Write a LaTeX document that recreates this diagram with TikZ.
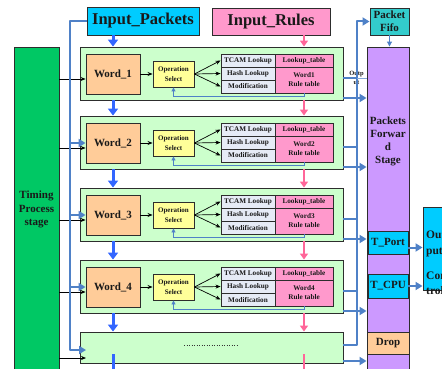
\documentclass[tikz,border=0pt]{standalone}
\usepackage{fontspec}
\setmainfont{Liberation Serif}
\usetikzlibrary{arrows.meta}
\definecolor{tgreen}{RGB}{0,200,100}
\definecolor{lgreen}{RGB}{204,255,204}
\definecolor{wordor}{RGB}{255,204,153}
\definecolor{opyel}{RGB}{255,255,153}
\definecolor{cellgray}{RGB}{230,235,246}
\definecolor{rpink}{RGB}{255,153,204}
\definecolor{pcyan}{RGB}{0,204,255}
\definecolor{fteal}{RGB}{51,204,204}
\definecolor{fpurple}{RGB}{204,153,255}
\definecolor{lblue}{RGB}{79,129,199}
\definecolor{bblue}{RGB}{51,102,255}
\definecolor{apink}{RGB}{255,102,153}
\definecolor{edge}{RGB}{45,45,45}
\newcommand{\fs}[2]{\fontsize{#1}{#2}\selectfont}
\begin{document}
\begin{tikzpicture}[x=1pt,y=-1pt,
  every node/.style={inner sep=0pt, font=\bfseries, text=black!90},
  box/.style={draw=edge, line width=0.9pt, align=center},
  blkbox/.style={box, fill=lgreen, minimum width=263},
  wordbox/.style={box, fill=wordor, minimum width=54, minimum height=40, font=\bfseries\fs{11}{13}},
  opbox/.style={box, fill=opyel, minimum width=41, minimum height=26, font=\bfseries\fs{7}{9.5}},
  cellbox/.style={box, fill=cellgray, minimum width=54, minimum height=13, font=\bfseries\fs{7.2}{9}},
  pcell/.style={box, fill=rpink, minimum width=58, font=\bfseries\fs{7.2}{9}},
  bigdown/.style={draw=bblue, line width=3pt, -{Triangle[width=10pt,length=7pt]}},
  pinkdown/.style={draw=apink, line width=2pt, -{Triangle[width=8pt,length=6pt]}},
  busline/.style={draw=lblue, line width=2.8pt, line join=round},
  busarrow/.style={busline, -{Triangle[width=8pt,length=7pt]}},
  outline/.style={draw=lblue, line width=2pt, line join=round},
  outarrow/.style={outline, -{Triangle[width=8pt,length=7pt]}},
  fbline/.style={draw=lblue, line width=0.9pt, -{Triangle[width=4pt,length=4pt]}},
  blkarrow/.style={draw=black, line width=0.7pt, -{Stealth[width=4pt,length=5pt]}}
]
\useasboundingbox (0,0) rectangle (442,369);
\clip (0,0) rectangle (442,369);

% top boxes
\node[box, fill=pcyan, minimum width=112, minimum height=28, font=\bfseries\fs{16.5}{18}] (inpk) at (143,21) {Input\_Packets};
\node[box, fill=rpink, minimum width=118, minimum height=27, font=\bfseries\fs{16.5}{18}] (inrules) at (271,21.5) {Input\_Rules};
\node[box, fill=fteal, minimum width=39, minimum height=27, font=\bfseries\fs{11}{13}] (fifo) at (389.5,21.5) {Packet\\Fifo};

% timing stage
\node[box, fill=tgreen, minimum width=45, minimum height=325, font=\bfseries\fs{11}{13.5}] (timing) at (36.5,209.5) {Timing\\Process\\stage};

% packets forward stage
\node[box, fill=fpurple, minimum width=42, minimum height=328] (pfs) at (388,211) {};
\node[align=center, font=\bfseries\fs{11}{13}] (pfstxt) at (388,141) {Packets\\Forwar\\d\\Stage};
\node[box, fill=pcyan, minimum width=40, minimum height=23, font=\bfseries\fs{11}{13}] (tport) at (388,242.5) {T\_Port};
\node[box, fill=pcyan, minimum width=40, minimum height=24, font=\bfseries\fs{11}{13}] (tcpu) at (388,286) {T\_CPU};
\node[box, fill=wordor, minimum width=42, minimum height=22, font=\bfseries\fs{11}{13}] (drop) at (388,343) {Drop};

% right output box
\node[box, fill=pcyan, minimum width=37, minimum height=83] (outbox) at (441.5,248.5) {};
\node[anchor=west, align=left, font=\bfseries\fs{11.5}{16}] (outtxt) at (426,244) {Out\\put};
\node[anchor=west, align=left, font=\bfseries\fs{11.5}{15}] (ctltxt) at (426,283.5) {Con\\trol};

% word blocks
\foreach \k/\cy in {1/74, 2/143, 3/215, 4/287} {
  \node[blkbox, minimum height=53] (blk\k) at (211.5,\cy-0.5) {};
  \node[wordbox] (word\k) at (113,\cy) {Word\_\k};
  \node[opbox] (op\k) at (173.5,\cy) {Operation\\Select};
  \node[cellbox] (tcam\k) at (248,\cy-13.5) {TCAM Lookup};
  \node[cellbox] (hash\k) at (248,\cy-0.5) {Hash Lookup};
  \node[cellbox] (mod\k) at (248,\cy+12.5) {Modification};
  \node[pcell, minimum height=13] (lt\k) at (304,\cy-13.5) {Lookup\_table};
  \node[pcell, minimum height=26] (rt\k) at (304,\cy+6) {Word\k\\Rule table};
  \draw[blkarrow] (word\k) -- (op\k);
  \draw[blkarrow] (op\k.east) -- (tcam\k.west);
  \draw[blkarrow] (op\k.east) -- (hash\k.west);
  \draw[blkarrow] (op\k.east) -- (mod\k.west);
  \coordinate (fb\k) at (173.5,\cy+22);
  \draw[fbline] (rt\k.south) |- (fb\k) -- (op\k.south);
  \coordinate (tin\k) at ([yshift=-5pt]word\k.west);
  \draw[blkarrow] (timing.east |- tin\k) -- (tin\k);
}
\node[blkbox, minimum height=31] (blk5) at (211.5,347.5) {};
\coordinate (dotl) at (184,345);
\coordinate (dotr) at (238,345);
\draw[dotted, line width=0.5pt, black!80] (dotl) -- (dotr);
\coordinate (tin5) at (86,358);
\draw[blkarrow] (timing.east |- tin5) -- (tin5);

% small output label
\node[align=center, font=\bfseries\fs{6.5}{9}] (outlbl) at (356.5,77.5) {Outp\\ut};

% vertical arrows between blocks
\draw[bigdown] (word1 |- inpk.south) -- (word1 |- blk1.north);
\draw[pinkdown] (rt1 |- inrules.south) -- (rt1 |- blk1.north);
\foreach \k/\n in {1/2, 2/3, 3/4} {
  \draw[bigdown] (word\k |- blk\k.south) -- (word\k |- blk\n.north);
  \draw[pinkdown] (rt\k |- blk\k.south) -- (rt\k |- blk\n.north);
}
\draw[bigdown] (word4 |- blk4.south) -- (word4 |- blk5.north);
\draw[pinkdown] (rt4 |- blk4.south) -- (rt4 |- blk5.north);
\coordinate (bd1) at (113,354);
\coordinate (bd2) at (113,376);
\coordinate (pd1) at (304,354);
\coordinate (pd2) at (304,376);
\draw[bigdown] (bd1) -- (bd2);
\draw[pinkdown] (pd1) -- (pd2);

% left bus
\coordinate (lbtop) at (70,21);
\coordinate (lbbot) at (70,350);
\coordinate (b5in) at (86,350);
\draw[busarrow] (inpk.west) -- (lbtop) -- (lbbot) -- (b5in);
\foreach \k in {2,3,4} {
  \draw[busarrow] (lbtop |- word\k.west) -- (word\k.west);
}

% right bus
\coordinate (rbbot) at (357,345);
\draw[outarrow] (blk5.east |- rbbot) -- (rbbot) |- (fifo.west);
\foreach \k in {1,2,3,4} {
  \coordinate (oj\k) at ([yshift=-4.5pt]blk\k.east);
  \draw[outline] (oj\k) -- (oj\k -| rbbot);
  \coordinate (oa\k) at ([yshift=-24.5pt]blk\k.east);
  \draw[outarrow] (oa\k) -- (oa\k -| pfs.west);
}
\draw[draw=lblue!70, line width=0.7pt] (oj1 -| rbbot) -- (oj1 -| pfs.west);
\coordinate (oa5) at ([yshift=-13.5pt]blk5.east);
\draw[outarrow] (oa5) -- (oa5 -| pfs.west);

% fifo to forward stage
\draw[draw=lblue, line width=1pt, -{Triangle[width=5pt,length=5pt]}] (fifo.south) -- (fifo.south |- pfs.north);

% to output box
\coordinate (tpo) at ([yshift=-5pt]tport.east);
\draw[outarrow] (tpo) -- (tpo -| outbox.west);
\draw[outarrow] (tcpu.east) -- (tcpu.east -| outbox.west);
\end{tikzpicture}
\end{document}
